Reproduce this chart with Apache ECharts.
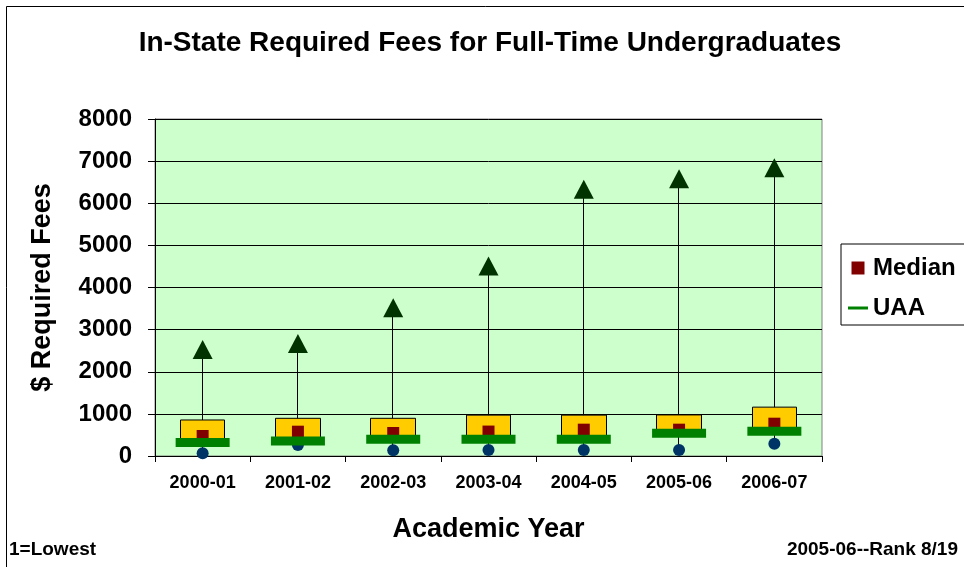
<!DOCTYPE html>
<html>
<head>
<meta charset="utf-8">
<title>In-State Required Fees</title>
<script src="https://cdn.jsdelivr.net/npm/echarts@6/dist/echarts.min.js"></script>
<style>
  html, body { margin: 0; padding: 0; background: #fff; }
  #main { width: 964px; height: 567px; }
</style>
</head>
<body>
<div id="main"></div>
<script>
// academic years
const years = ['2000-01', '2001-02', '2002-03', '2003-04', '2004-05', '2005-06', '2006-07']
// highest fee among peers (triangles)
const highest = [2530, 2670, 3520, 4510, 6330, 6580, 6840]
// top of the yellow box
const boxTop = [855, 895, 895, 970, 970, 975, 1160]
// median (red squares)
const median = [475, 577, 546, 580, 625, 625, 767]
// UAA (green bars)
const uaa = [320, 356, 396, 400, 400, 541, 586]
// lowest fee among peers (blue dots)
const lowest = [65, 261, 138, 142, 142, 142, 290]
const yTicks = [0, 1000, 2000, 3000, 4000, 5000, 6000, 7000, 8000]

const font = "'Liberation Sans', Arial, sans-serif"

// candlestick wants [open, close, lowest, highest]
const boxData = years.map(function (y, i) {
  return [uaa[i], boxTop[i], lowest[i], highest[i]]
})

const chart = echarts.init(document.getElementById('main'), null, { renderer: 'canvas' })

const option = {
  backgroundColor: '#ffffff',
  animation: false,
  textStyle: { fontFamily: font, color: '#000' },
  graphic: [
    {
      type: 'rect',
      shape: { x: 6.5, y: 6.5, width: 1000, height: 600 },
      style: { fill: null, stroke: '#000', lineWidth: 1 },
      z: 0
    },
    {
      type: 'text',
      x: 490, y: 43,
      style: {
        text: 'In-State Required Fees for Full-Time Undergraduates',
        align: 'center', verticalAlign: 'middle',
        font: 'bold 28px ' + font, fill: '#000'
      }
    },
    {
      type: 'text',
      x: 9, y: 550,
      style: {
        text: '1=Lowest', align: 'left', verticalAlign: 'middle',
        font: 'bold 19px ' + font, fill: '#000'
      }
    },
    {
      type: 'text',
      x: 958, y: 550,
      style: {
        text: '2005-06--Rank 8/19', align: 'right', verticalAlign: 'middle',
        font: 'bold 19px ' + font, fill: '#000'
      }
    }
  ],
  legend: {
    orient: 'vertical',
    left: 841,
    top: 244,
    padding: [11, 30, 4, 7],
    itemGap: 14,
    itemWidth: 20,
    itemHeight: 13,
    itemStyle: { borderWidth: 0 },
    backgroundColor: '#fff',
    borderColor: '#000',
    borderWidth: 1,
    textStyle: { fontFamily: font, fontWeight: 'bold', fontSize: 24, lineHeight: 26, color: '#000' },
    data: [
      { name: 'Median', icon: 'path://M0,0H10V10H0Z' },
      { name: 'UAA', icon: 'path://M0,0H20V3H0Z' }
    ]
  },
  grid: {
    left: 155,
    top: 119,
    right: 142,
    bottom: 111,
    show: true,
    backgroundColor: '#CCFFCC',
    borderColor: '#808080',
    borderWidth: 1
  },
  xAxis: {
    type: 'category',
    data: years,
    boundaryGap: true,
    name: 'Academic Year',
    nameLocation: 'middle',
    nameGap: 60,
    nameTextStyle: { fontFamily: font, fontWeight: 'bold', fontSize: 27, color: '#000' },
    axisLine: { lineStyle: { color: '#000', width: 1 } },
    axisTick: { show: true, length: 6, lineStyle: { color: '#000' } },
    axisLabel: { fontFamily: font, fontWeight: 'bold', fontSize: 18, color: '#000', margin: 18 },
    splitLine: { show: false }
  },
  yAxis: {
    type: 'value',
    min: yTicks[0],
    max: yTicks[yTicks.length - 1],
    interval: 1000,
    name: '$ Required Fees',
    nameLocation: 'middle',
    nameGap: 99,
    nameTextStyle: { fontFamily: font, fontWeight: 'bold', fontSize: 27, color: '#000' },
    axisLine: { show: true, lineStyle: { color: '#000', width: 1 } },
    axisTick: { show: true, length: 7, lineStyle: { color: '#000' } },
    axisLabel: {
      fontFamily: font, fontWeight: 'bold', fontSize: 24, color: '#000', margin: 23,
      formatter: function (v) { return String(v) }
    },
    splitLine: { show: true, lineStyle: { color: '#000', width: 1 } }
  },
  series: [
    {
      name: 'Range',
      type: 'candlestick',
      data: boxData,
      barWidth: 45,
      z: 2,
      itemStyle: {
        color: '#FFCC00',
        color0: '#FFCC00',
        borderColor: '#000',
        borderColor0: '#000',
        borderWidth: 1,
        opacity: 1
      }
    },
    {
      name: 'Median',
      type: 'scatter',
      data: median,
      symbol: 'rect',
      symbolSize: 12,
      z: 3,
      itemStyle: { color: '#800000', opacity: 1 }
    },
    {
      name: 'Lowest',
      type: 'scatter',
      data: lowest,
      symbol: 'circle',
      symbolSize: 12,
      z: 4,
      itemStyle: { color: '#003366', opacity: 1 }
    },
    {
      name: 'UAA',
      type: 'scatter',
      data: uaa,
      symbol: 'rect',
      symbolSize: [54, 9],
      z: 5,
      itemStyle: { color: '#008000', opacity: 1 }
    },
    {
      name: 'Highest',
      type: 'scatter',
      data: highest,
      symbol: 'triangle',
      symbolSize: [20, 19],
      z: 6,
      itemStyle: { color: '#003300', opacity: 1 }
    }
  ]
}

chart.setOption(option)
</script>
</body>
</html>
